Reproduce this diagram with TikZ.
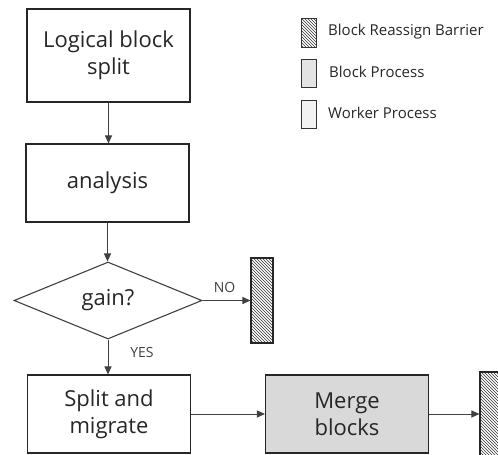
\documentclass[tikz,border=0pt]{standalone}
\usepackage{fontspec}
\setmainfont{Open Sans}
\usetikzlibrary{shapes.geometric,patterns,arrows.meta}
\definecolor{linegray}{HTML}{404040}
\definecolor{mergefill}{HTML}{D9D9D9}
\definecolor{procfill}{HTML}{E3E3E3}
\definecolor{workfill}{HTML}{F2F2F2}
\begin{document}
\begin{tikzpicture}[x=1pt,y=-1pt,
  box/.style={draw=black!85,line width=1.1pt,minimum width=163pt,minimum height=78pt,
    font=\fontsize{22}{27}\selectfont,align=center,inner sep=0pt,text=black!85},
  decision/.style={draw=black!75,line width=1.1pt,shape=diamond,aspect=2.44,
    minimum width=188pt,minimum height=77pt,inner sep=0pt,font=\fontsize{22}{27}\selectfont,text=black!85},
  barrier/.style={draw=black!85,line width=1.1pt,pattern=north west lines,pattern color=black!80,
    minimum width=22pt,minimum height=85pt,inner sep=0pt},
  legicon/.style={draw=black!80,line width=0.9pt,minimum width=15pt,minimum height=28pt,inner sep=0pt},
  legtext/.style={anchor=west,font=\fontsize{15}{18}\selectfont,text=black!85,inner sep=0pt},
  flow/.style={draw=linegray,line width=1pt,-{Triangle[length=8pt,width=7pt]}},
  lab/.style={font=\fontsize{14}{17}\selectfont,text=black!75,inner sep=0pt}]
\useasboundingbox (0,0) rectangle (498,455);
\clip (0,0) rectangle (498,455);
% flow nodes
\node[box,minimum height=93pt] (split) at (108.5,55.5) {Logical block\\split};
\node[box] (analysis) at (107.5,183) {analysis};
\node[decision] (gain) at (108,300.5) {gain?};
\node[barrier] (bar1) at (262,300.5) {};
\node[box] (migrate) at (109,414) {Split and\\migrate};
\node[box,fill=mergefill] (merge) at (347,414) {Merge\\blocks};
\node[barrier,minimum width=26pt,minimum height=90pt] (bar2) at (493,417) {};
% connectors
\draw[flow] (split.south) -- (split.south |- analysis.north);
\draw[flow] (analysis.south) -- (analysis.south |- gain.north);
\draw[flow] (gain.east) -- (gain.east -| bar1.west);
\draw[flow] (gain.south) -- (gain.south |- migrate.north);
\draw[flow] (migrate.east) -- (migrate.east -| merge.west);
\draw[flow] (merge.east) -- (merge.east -| bar2.west);
\node[lab] (no) at (224.5,287) {NO};
\node[lab] (yes) at (142,352) {YES};
% legend
\node[legicon,pattern=north west lines,pattern color=black!80,minimum height=29pt] (leg1) at (308.5,32.5) {};
\node[legicon,fill=procfill] (leg2) at (308.5,73) {};
\node[legicon,fill=workfill] (leg3) at (308.5,114) {};
\node[legtext] (legt1) at (328,32) {Block Reassign Barrier};
\node[legtext] (legt2) at (329,72) {Block Process};
\node[legtext] (legt3) at (328,113) {Worker Process};
\end{tikzpicture}
\end{document}
